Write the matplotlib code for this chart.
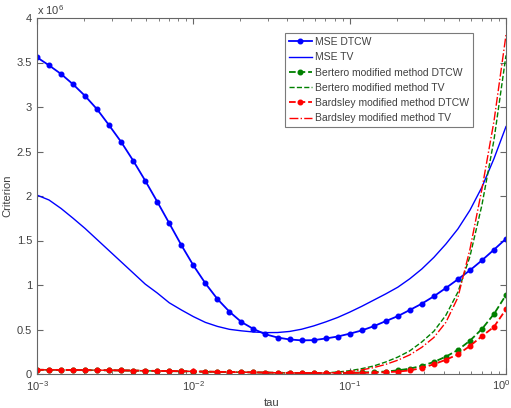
import numpy as np
import matplotlib
matplotlib.use("Agg")
import matplotlib.pyplot as plt
from matplotlib.ticker import FixedLocator, FuncFormatter, LogLocator, NullFormatter

plt.rcParams['font.family'] = ['Liberation Sans', 'DejaVu Sans']
plt.rcParams['mathtext.default'] = 'regular'

# tau values: 40 log-spaced points between 1e-3 and 1
tau = np.logspace(-3, 0, 40)

# Criterion values (in units of 1e6)
mse_dtcw = [3.558, 3.468, 3.371, 3.255, 3.124, 2.974, 2.794, 2.607, 2.397, 2.172,
            1.936, 1.693, 1.449, 1.221, 1.019, 0.843, 0.700, 0.584, 0.506, 0.446,
            0.410, 0.388, 0.378, 0.380, 0.399, 0.421, 0.453, 0.489, 0.537, 0.594,
            0.650, 0.719, 0.790, 0.873, 0.966, 1.064, 1.165, 1.277, 1.397, 1.520]

mse_tv = [2.01, 1.955, 1.86, 1.75, 1.635, 1.51, 1.385, 1.26, 1.135, 1.01,
          0.91, 0.80, 0.72, 0.645, 0.58, 0.535, 0.502, 0.485, 0.472, 0.465,
          0.466, 0.478, 0.503, 0.54, 0.585, 0.635, 0.695, 0.76, 0.83, 0.90,
          0.975, 1.07, 1.18, 1.31, 1.46, 1.63, 1.84, 2.10, 2.42, 2.78]

bertero_dtcw = [0.047, 0.046, 0.045, 0.044, 0.043, 0.042, 0.041, 0.040, 0.038, 0.036,
                0.034, 0.032, 0.030, 0.028, 0.026, 0.024, 0.022, 0.020, 0.018, 0.016,
                0.014, 0.012, 0.011, 0.010, 0.011, 0.012, 0.014, 0.017, 0.021, 0.028,
                0.041, 0.060, 0.092, 0.135, 0.195, 0.270, 0.374, 0.506, 0.674, 0.888]

bertero_tv = [0.047, 0.046, 0.045, 0.044, 0.043, 0.042, 0.041, 0.040, 0.038, 0.036,
              0.034, 0.032, 0.030, 0.028, 0.026, 0.024, 0.022, 0.020, 0.018, 0.016,
              0.014, 0.012, 0.011, 0.010, 0.013, 0.022, 0.037, 0.060, 0.090, 0.135,
              0.190, 0.260, 0.360, 0.480, 0.660, 0.920, 1.320, 1.900, 2.630, 3.580]

bardsley_dtcw = [0.048, 0.047, 0.046, 0.045, 0.044, 0.043, 0.042, 0.040, 0.039, 0.037,
                 0.035, 0.033, 0.031, 0.029, 0.027, 0.025, 0.022, 0.020, 0.018, 0.016,
                 0.014, 0.012, 0.011, 0.010, 0.010, 0.010, 0.011, 0.013, 0.016, 0.020,
                 0.027, 0.040, 0.067, 0.110, 0.160, 0.220, 0.315, 0.425, 0.530, 0.727]

bardsley_tv = [0.048, 0.047, 0.046, 0.045, 0.044, 0.043, 0.042, 0.040, 0.039, 0.037,
               0.035, 0.033, 0.031, 0.029, 0.027, 0.025, 0.022, 0.020, 0.018, 0.016,
               0.014, 0.012, 0.011, 0.010, 0.011, 0.016, 0.028, 0.046, 0.072, 0.108,
               0.155, 0.215, 0.300, 0.410, 0.580, 0.860, 1.400, 2.080, 2.840, 3.810]

labels = ['MSE DTCW', 'MSE TV', 'Bertero modified method DTCW',
          'Bertero modified method TV', 'Bardsley modified method DTCW',
          'Bardsley modified method TV']
yticks = [0, 0.5, 1, 1.5, 2, 2.5, 3, 3.5, 4]
xticks = [1e-3, 1e-2, 1e-1, 1e0]
xticklabels = ['$10^{-3}$', '$10^{-2}$', '$10^{-1}$', '$10^{0}$']

fig = plt.figure(figsize=(5.11, 4.08), dpi=100)
ax = fig.add_axes([37/511, 34/408, (506-37)/511, (374-18)/408])

blue = (0, 0, 1)
green = (0, 0.5, 0)
red = (1, 0, 0)
ms = 3.3
ax.plot(tau, mse_dtcw, '-', color=blue, lw=1.3, marker='o', ms=ms, label=labels[0])
ax.plot(tau, mse_tv, '-', color=blue, lw=1.0, label=labels[1])
ax.plot(tau, bertero_dtcw, '--', color=green, lw=1.3, marker='o', ms=ms, label=labels[2])
ax.plot(tau, bertero_tv, '--', color=green, lw=1.0, label=labels[3])
ax.plot(tau, bardsley_dtcw, '--', color=red, lw=1.3, marker='o', ms=ms, label=labels[4])
ax.plot(tau, bardsley_tv, '-.', color=red, lw=1.0, label=labels[5])

ax.set_xscale('log')
ax.set_xlim(1e-3, 1)
ax.set_ylim(0, 4)
ax.yaxis.set_major_locator(FixedLocator(yticks))
ax.yaxis.set_major_formatter(FuncFormatter(lambda v, p: f'{v:g}'))
ax.set_xticks(xticks)
# last label drawn separately so it stays inside the figure
ax.set_xticklabels(xticklabels[:-1] + [''])
ax.xaxis.set_minor_locator(LogLocator(base=10, subs=np.arange(2, 10), numticks=20))
ax.xaxis.set_minor_formatter(NullFormatter())

tc = '0.25'
for s in ax.spines.values():
    s.set_color('0.4')
    s.set_linewidth(0.8)
ax.tick_params(which='both', direction='in', top=True, right=True, colors='0.4',
               labelcolor=tc, labelsize=8)
ax.tick_params(which='major', length=4)
ax.tick_params(which='minor', length=2.5)
ax.tick_params(axis='x', pad=4)

ax.annotate(xticklabels[-1], xy=(1.0, 0.0), xycoords='axes fraction',
            xytext=(4, -4), textcoords='offset pixels', ha='right', va='top',
            fontsize=8, color=tc)

ax.text(0.0, 1.004, 'x 10$^{6}$', transform=ax.transAxes, fontsize=8, color=tc,
        ha='left', va='bottom')
ax.set_xlabel('tau', fontsize=8, color=tc)
ax.set_ylabel('Criterion', fontsize=8, color=tc)
ax.xaxis.set_label_coords(0.5, -0.068)
ax.yaxis.set_label_coords(-0.053, 0.5)

leg = ax.legend(loc='upper right', bbox_to_anchor=(0.93, 0.958), fontsize=7.5,
                frameon=True, fancybox=False, handlelength=2.2, handletextpad=0.3,
                borderpad=0.4, labelspacing=0.5, borderaxespad=0)
leg.get_frame().set_edgecolor('0.35')
leg.get_frame().set_linewidth(0.8)
for t in leg.get_texts():
    t.set_color(tc)

fig.savefig('out.png', dpi=100)
